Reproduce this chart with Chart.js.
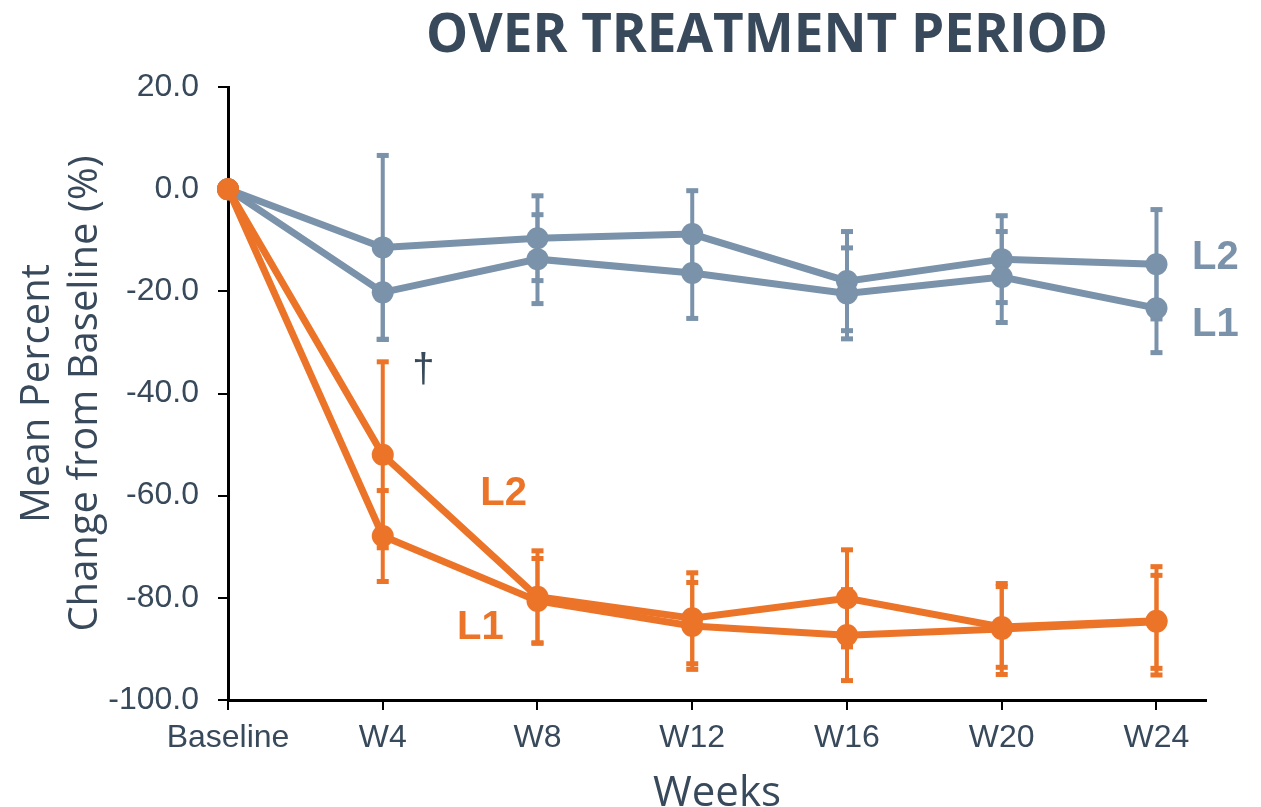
<!DOCTYPE html>
<html>
<head>
<meta charset="utf-8">
<script src="https://cdn.jsdelivr.net/npm/chart.js@4"></script>
<style>
	html, body { margin: 0; padding: 0; background: #fff; }
	#wrap { width: 1261px; height: 807px; position: relative; }
</style>
</head>
<body>
<div id="wrap"><canvas id="chart"></canvas></div>
<script>
const weeks = ['Baseline', 'W4', 'W8', 'W12', 'W16', 'W20', 'W24'];
const yTickValues = [20, 0, -20, -40, -60, -80, -100];

// grey arms
const greyL1 = [0, -20.2, -13.7, -16.4, -20.4, -17.2, -23.3];
const greyL1Err = [0, 9.3, 8.8, 9.0, 9.0, 9.0, 8.8];
const greyL2 = [0, -11.4, -9.6, -8.8, -18.0, -13.7, -14.7];
const greyL2Err = [0, 18.1, 8.4, 8.6, 9.8, 8.6, 10.8];

// orange arms
const orangeL1 = [0, -67.9, -80.6, -85.5, -87.3, -86.1, -84.7];
const orangeL1Err = [0, 9.0, 8.4, 8.6, 9.0, 9.0, 9.2];
const orangeL2 = [0, -52.0, -79.8, -84.0, -80.1, -85.7, -84.5];
const orangeL2Err = [0, 18.3, 9.1, 9.0, 9.6, 8.0, 10.7];

// in-plot text labels, positioned in data units
const notes = [
	{ text: 'L2', x: 6.23, y: -13.5, color: 'grey' },
	{ text: 'L1', x: 6.23, y: -26.6, color: 'grey' },
	{ text: 'L2', x: 1.63, y: -59.7, color: 'orange' },
	{ text: 'L1', x: 1.48, y: -85.9, color: 'orange' },
	{ text: '†', x: 1.19, y: -35.6, color: 'dark' },
];

const GREY = '#7a92aa';
const ORANGE = '#ec7428';
const DARK = '#37495a';
const colors = { grey: GREY, orange: ORANGE, dark: DARK };

function toPoints(values) {
	return values.map((v, i) => ({ x: i, y: v }));
}

function makeSet(label, values, errors, color) {
	return {
		label,
		data: toPoints(values),
		errors,
		borderColor: color,
		backgroundColor: color,
		borderWidth: 7,
		pointRadius: 11,
		pointHoverRadius: 11,
		pointBorderWidth: 0,
		tension: 0,
		clip: false,
	};
}

const errorBars = {
	id: 'errorBars',
	beforeDatasetsDraw(chart) {
		const ctx = chart.ctx;
		const xs = chart.scales.x;
		const ys = chart.scales.y;
		chart.data.datasets.forEach((ds) => {
			ctx.save();
			ctx.strokeStyle = ds.borderColor;
			ctx.fillStyle = ds.borderColor;
			ctx.lineWidth = 4;
			ds.data.forEach((p, i) => {
				const e = ds.errors[i];
				if (!e) return;
				const px = xs.getPixelForValue(p.x);
				const top = ys.getPixelForValue(p.y + e);
				const bot = ys.getPixelForValue(p.y - e);
				ctx.beginPath();
				ctx.moveTo(px, top);
				ctx.lineTo(px, bot);
				ctx.stroke();
				ctx.fillRect(px - 6, top - 2, 12, 5);
				ctx.fillRect(px - 6, bot - 3, 12, 5);
			});
			ctx.restore();
		});
	},
};

const extras = {
	id: 'extras',
	afterDraw(chart) {
		const ctx = chart.ctx;
		const xs = chart.scales.x;
		const ys = chart.scales.y;
		const area = chart.chartArea;
		ctx.save();
		ctx.textBaseline = 'middle';
		ctx.textAlign = 'left';
		notes.forEach((n) => {
			ctx.fillStyle = colors[n.color];
			ctx.font = n.text === '†' ? '40px "Liberation Sans"' : 'bold 40px "Liberation Sans"';
			ctx.fillText(n.text, xs.getPixelForValue(n.x), ys.getPixelForValue(n.y));
		});
		// heading
		ctx.fillStyle = DARK;
		ctx.textAlign = 'center';
		ctx.textBaseline = 'alphabetic';
		ctx.font = 'bold 53px "Open Sans"';
		ctx.fillText('OVER TREATMENT PERIOD', (area.left + area.right) / 2 + 50, 52);
		ctx.restore();
	},
};

new Chart(document.getElementById('chart'), {
	type: 'line',
	data: {
		datasets: [
			makeSet('Orange L1', orangeL1, orangeL1Err, ORANGE),
			makeSet('Orange L2', orangeL2, orangeL2Err, ORANGE),
			makeSet('Grey L1', greyL1, greyL1Err, GREY),
			makeSet('Grey L2', greyL2, greyL2Err, GREY),
		],
	},
	options: {
		responsive: true,
		maintainAspectRatio: false,
		animation: false,
		layout: { padding: { top: 87, right: 55, left: 0, bottom: 0 } },
		plugins: {
			legend: { display: false },
			tooltip: { enabled: false },
		},
		scales: {
			x: {
				type: 'linear',
				min: 0,
				max: 6.32,
				afterBuildTicks: (scale) => {
					scale.ticks = weeks.map((w, i) => ({ value: i }));
				},
				afterFit: (scale) => {
					scale.height = 107;
				},
				ticks: {
					callback: (v) => weeks[v],
					color: DARK,
					font: { family: 'Liberation Sans', size: 32 },
					padding: 9,
					maxRotation: 0,
					autoSkip: false,
				},
				grid: {
					drawOnChartArea: false,
					drawTicks: true,
					tickLength: 10,
					color: '#000',
					lineWidth: 2,
				},
				border: { display: true, color: '#000', width: 3 },
				title: {
					display: true,
					text: 'Weeks',
					color: DARK,
					font: { family: 'Open Sans', size: 42, lineHeight: 0.62 },
					padding: { top: 0, bottom: 0 },
				},
			},
			y: {
				min: -100,
				max: 20,
				afterBuildTicks: (scale) => {
					scale.ticks = yTickValues.map((v) => ({ value: v }));
				},
				afterFit: (scale) => {
					scale.width = 228;
				},
				ticks: {
					callback: (v) => v.toFixed(1),
					color: DARK,
					font: { family: 'Liberation Sans', size: 32 },
					padding: 19,
				},
				grid: {
					drawOnChartArea: false,
					drawTicks: true,
					tickLength: 10,
					color: '#000',
					lineWidth: 2,
				},
				border: { display: true, color: '#000', width: 3 },
				title: {
					display: true,
					text: ['Mean Percent', 'Change from Baseline (%)'],
					color: DARK,
					font: { family: 'Open Sans', size: 40, lineHeight: 1.2 },
					padding: { top: 14, bottom: 0 },
				},
			},
		},
	},
	plugins: [errorBars, extras],
});
</script>
</body>
</html>
